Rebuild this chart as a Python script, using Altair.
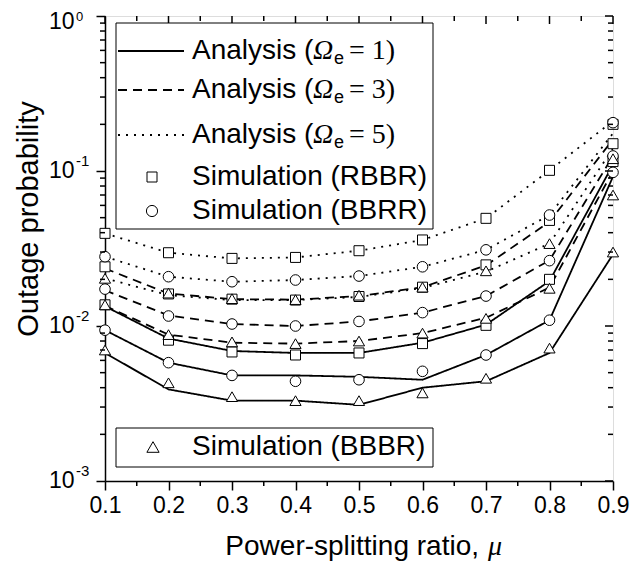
import altair as alt
import pandas as pd

# ---------------- data ----------------
mu = [0.1, 0.2, 0.3, 0.4, 0.5, 0.6, 0.7, 0.8, 0.9]
schemes = ["RBBR", "BBRR", "BBBR"]
omegas = ["1", "3", "5"]

# analysis curves (Omega_e = 1 solid, 3 dashed, 5 dotted)
ana_w1_rbbr = [0.0134, 0.0083, 0.0069, 0.0067, 0.0067, 0.0078, 0.0102, 0.0195, 0.110]
ana_w1_bbrr = [0.0094, 0.0058, 0.0048, 0.0048, 0.0047, 0.0045, 0.0065, 0.0109, 0.092]
ana_w1_bbbr = [0.0067, 0.0039, 0.0033, 0.0033, 0.0031, 0.0040, 0.0044, 0.0067, 0.029]
ana_w3_rbbr = [0.0235, 0.0162, 0.0149, 0.0148, 0.0156, 0.0178, 0.0246, 0.0470, 0.160]
ana_w3_bbrr = [0.0170, 0.0117, 0.0103, 0.0100, 0.0107, 0.0122, 0.0156, 0.0265, 0.125]
ana_w3_bbbr = [0.0135, 0.0088, 0.0078, 0.0077, 0.0080, 0.0090, 0.0113, 0.0177, 0.100]
ana_w5_rbbr = [0.0396, 0.0297, 0.0273, 0.0277, 0.0306, 0.0359, 0.0495, 0.1010, 0.210]
ana_w5_bbrr = [0.0280, 0.0208, 0.0193, 0.0198, 0.0210, 0.0241, 0.0310, 0.0520, 0.175]
ana_w5_bbbr = [0.0203, 0.0158, 0.0147, 0.0147, 0.0154, 0.0176, 0.0224, 0.0340, 0.140]

# simulation points
sim_w1_rbbr = [0.0137, 0.0081, 0.0068, 0.0065, 0.0067, 0.0077, 0.0101, 0.0200, 0.115]
sim_w1_bbrr = [0.0094, 0.0058, 0.0048, 0.0044, 0.0045, 0.0051, 0.0065, 0.0109, 0.098]
sim_w1_bbbr = [0.0070, 0.0043, 0.0035, 0.0033, 0.0033, 0.0037, 0.0046, 0.0072, 0.030]
sim_w3_rbbr = [0.0241, 0.0161, 0.0149, 0.0147, 0.0155, 0.0178, 0.0248, 0.0480, 0.150]
sim_w3_bbrr = [0.0173, 0.0116, 0.0103, 0.0100, 0.0107, 0.0122, 0.0156, 0.0264, 0.125]
sim_w3_bbbr = [0.0137, 0.0088, 0.0079, 0.0077, 0.0080, 0.0090, 0.0112, 0.0175, 0.070]
sim_w5_rbbr = [0.0396, 0.0297, 0.0273, 0.0277, 0.0306, 0.0359, 0.0495, 0.1010, 0.200]
sim_w5_bbrr = [0.0280, 0.0208, 0.0193, 0.0198, 0.0210, 0.0241, 0.0310, 0.0520, 0.205]
sim_w5_bbbr = [0.0203, 0.0163, 0.0150, 0.0148, 0.0158, 0.0178, 0.0227, 0.0340, 0.120]

x_major = [0.1, 0.2, 0.3, 0.4, 0.5, 0.6, 0.7, 0.8, 0.9]
x_minor = [0.15, 0.25, 0.35, 0.45, 0.55, 0.65, 0.75, 0.85]
y_major = [0.001, 0.01, 0.1]
y_major_sup = ["-3", "-2", "-1"]
y_top = [1.0]
y_top_sup = ["0"]
y_minor = [m * d for d in [0.001, 0.01, 0.1] for m in [2, 3, 4, 5, 6, 7, 8, 9]]

analysis = {
    ("1", "RBBR"): ana_w1_rbbr, ("1", "BBRR"): ana_w1_bbrr, ("1", "BBBR"): ana_w1_bbbr,
    ("3", "RBBR"): ana_w3_rbbr, ("3", "BBRR"): ana_w3_bbrr, ("3", "BBBR"): ana_w3_bbbr,
    ("5", "RBBR"): ana_w5_rbbr, ("5", "BBRR"): ana_w5_bbrr, ("5", "BBBR"): ana_w5_bbbr,
}
simulation = {
    ("1", "RBBR"): sim_w1_rbbr, ("1", "BBRR"): sim_w1_bbrr, ("1", "BBBR"): sim_w1_bbbr,
    ("3", "RBBR"): sim_w3_rbbr, ("3", "BBRR"): sim_w3_bbrr, ("3", "BBBR"): sim_w3_bbbr,
    ("5", "RBBR"): sim_w5_rbbr, ("5", "BBRR"): sim_w5_bbrr, ("5", "BBBR"): sim_w5_bbbr,
}

def long_df(d):
    rows = []
    for (om, sc), vals in d.items():
        for m, v in zip(mu, vals):
            rows.append({"mu": m, "p": v, "omega": om, "scheme": sc, "series": om + sc})
    return pd.DataFrame(rows)

ana_df = long_df(analysis)
sim_df = long_df(simulation)

# ---------------- layout ----------------
W, H = 508, 465
SANS = "Liberation Sans"
SERIF = "Liberation Serif"

xscale = alt.Scale(domain=[0.1, 0.9], nice=False, zero=False)
yscale = alt.Scale(type="log", domain=[0.001, 1], nice=False)

xaxis = alt.Axis(values=x_major, format=".1f", tickSize=9, tickWidth=1.5,
                 domainWidth=1.5, domainColor="black", tickColor="black",
                 labelFontSize=23, labelFont=SANS, labelColor="black",
                 labelFlush=False, labelPadding=4, title=None, grid=False)
yaxis = alt.Axis(values=y_major + y_top, labels=False, tickSize=9, tickWidth=1.5,
                 domainWidth=1.5, domainColor="black", tickColor="black",
                 title=None, grid=False)

X = alt.X("mu:Q", scale=xscale, axis=xaxis)
Y = alt.Y("p:Q", scale=yscale, axis=yaxis)

lines = alt.Chart(ana_df).mark_line(color="black", strokeWidth=1.8, clip=True).encode(
    x=X, y=Y,
    detail="series:N",
    strokeDash=alt.StrokeDash("omega:N", scale=alt.Scale(domain=omegas,
                              range=[[1, 0], [9, 6], [2, 6]]), legend=None),
)

points = alt.Chart(sim_df).mark_point(filled=True, fill="white", stroke="black",
                                      strokeWidth=1, opacity=1).encode(
    x=X, y=Y,
    shape=alt.Shape("scheme:N", scale=alt.Scale(domain=schemes,
                    range=["square", "circle", "triangle-up"]), legend=None),
    size=alt.Size("scheme:N", scale=alt.Scale(domain=schemes, range=[100, 125, 150]),
                  legend=None),
)

# minor / mirrored ticks
xmaj_df = pd.DataFrame({"mu": x_major})
xmin_df = pd.DataFrame({"mu": x_minor})
ymaj_df = pd.DataFrame({"p": y_major + y_top})
ymin_df = pd.DataFrame({"p": y_minor})

tick_style = dict(color="black", strokeWidth=1.5)
bottom_minor = alt.Chart(xmin_df).mark_rule(**tick_style).encode(
    x=X, y=alt.value(H), y2=alt.value(H + 5))
top_major = alt.Chart(xmaj_df).mark_rule(**tick_style).encode(
    x=X, y=alt.value(0), y2=alt.value(8))
top_minor = alt.Chart(xmin_df).mark_rule(**tick_style).encode(
    x=X, y=alt.value(0), y2=alt.value(5))
left_minor = alt.Chart(ymin_df).mark_rule(**tick_style).encode(
    y=Y, x=alt.value(-5), x2=alt.value(0))
right_major = alt.Chart(ymaj_df).mark_rule(**tick_style).encode(
    y=Y, x=alt.value(W - 8), x2=alt.value(W))
right_minor = alt.Chart(ymin_df).mark_rule(**tick_style).encode(
    y=Y, x=alt.value(W - 5), x2=alt.value(W))

# y tick labels 10^k
ylab_df = pd.DataFrame({"p": y_major, "base": ["10"] * len(y_major), "sup": y_major_sup})
ytop_df = pd.DataFrame({"p": y_top, "base": ["10"], "sup": y_top_sup})
ylab_base = alt.Chart(ylab_df).mark_text(align="left", baseline="middle", font=SANS,
                                         fontSize=23, color="black").encode(
    y=Y, x=alt.value(-56), text="base:N")
ylab_sup = alt.Chart(ylab_df).mark_text(align="left", baseline="middle", font=SANS,
                                        fontSize=15, color="black", dy=-10).encode(
    y=Y, x=alt.value(-29), text="sup:N")
# top label shifted slightly so it stays inside the canvas
ytop_base = alt.Chart(ytop_df).mark_text(align="left", baseline="middle", font=SANS,
                                         fontSize=23, color="black", dy=6).encode(
    y=Y, x=alt.value(-56), text="base:N")
ytop_sup = alt.Chart(ytop_df).mark_text(align="left", baseline="middle", font=SANS,
                                        fontSize=13, color="black", dy=1).encode(
    y=Y, x=alt.value(-29), text="sup:N")

one = pd.DataFrame({"a": [0]})

def txt(s, x, y, size=28, font=SANS, style="normal", align="left", angle=0):
    return alt.Chart(one).mark_text(text=s, align=align, baseline="middle", font=font,
                                    fontSize=size, fontStyle=style, color="black",
                                    angle=angle).encode(x=alt.value(x), y=alt.value(y))

# axis titles
ytitle = txt("Outage probability", -76, 203, size=29, align="center", angle=270)
xtitle_a = txt("Power-splitting ratio,", 374, 531, size=28, align="right")
xtitle_b = txt("μ", 383, 531, size=28, font=SERIF, style="italic")

# legend boxes
box1 = alt.Chart(one).mark_rect(fill="white", stroke="black", strokeWidth=1).encode(
    x=alt.value(11), x2=alt.value(328), y=alt.value(7), y2=alt.value(213))
box2 = alt.Chart(one).mark_rect(fill="white", stroke="black", strokeWidth=1).encode(
    x=alt.value(11), x2=alt.value(328), y=alt.value(412), y2=alt.value(451))

leg_layers = []
dashes = [[1, 0], [9, 6], [2, 6]]
row_y = [35, 74, 119]
for om, dash, ry in zip(omegas, dashes, row_y):
    leg_layers.append(alt.Chart(one).mark_rule(color="black", strokeWidth=1.8,
                                               strokeDash=dash).encode(
        x=alt.value(13), x2=alt.value(79), y=alt.value(ry)))
    leg_layers.append(txt("Analysis (", 87, ry))
    leg_layers.append(txt("Ω", 208, ry, font=SERIF, style="italic"))
    leg_layers.append(txt("e", 229, ry + 8, size=18))
    leg_layers.append(txt("= " + om + ")", 244, ry, font=SERIF))

def leg_sym(shape, size, x, y):
    return alt.Chart(one).mark_point(shape=shape, size=size, filled=True, fill="white",
                                      stroke="black", strokeWidth=1, opacity=1).encode(
        x=alt.value(x), y=alt.value(y))

leg_layers += [
    leg_sym("square", 100, 47, 161), txt("Simulation (RBBR)", 87, 161),
    leg_sym("circle", 125, 47, 195), txt("Simulation (BBRR)", 87, 195),
]
leg2 = [leg_sym("triangle-up", 150, 48, 431), txt("Simulation (BBBR)", 87, 431)]

chart = alt.layer(
    lines, points, bottom_minor, top_major, top_minor, left_minor, right_major,
    right_minor, ylab_base, ylab_sup, ytop_base, ytop_sup, ytitle, xtitle_a, xtitle_b,
    box1, *leg_layers, box2, *leg2,
).properties(
    width=W, height=H,
    autosize=alt.AutoSizeParams(type="none"),
    padding={"left": 97, "top": 8, "right": 23, "bottom": 82},
).configure_view(stroke="black", strokeWidth=1.5).configure(background="white")

chart.save("out.html", embed_options={"renderer": "svg", "actions": False})
